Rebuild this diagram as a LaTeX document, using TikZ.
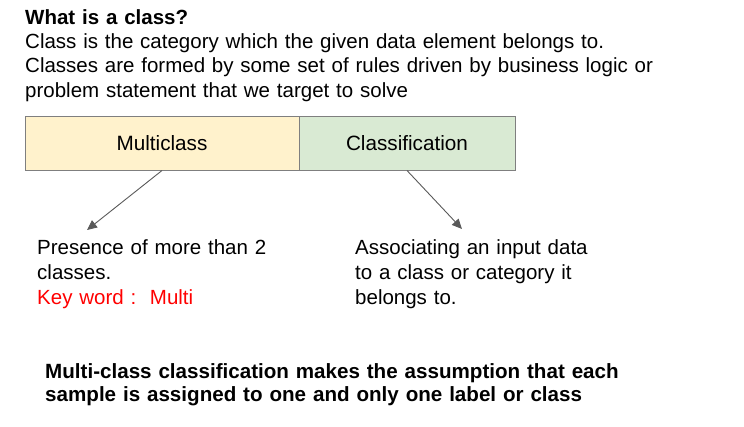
\documentclass[tikz,border=0pt]{standalone}
\usepackage{fontspec}
\setmainfont{Liberation Sans}
\usetikzlibrary{arrows.meta}
\definecolor{boxyellow}{HTML}{FFF2CC}
\definecolor{boxgreen}{HTML}{D9EAD3}
\definecolor{boxline}{HTML}{7F7F7F}
\definecolor{arrowgray}{HTML}{595959}

\begin{document}
\begin{tikzpicture}[x=1pt,y=-1pt,
	class box/.style={rectangle,draw=boxline,line width=1pt,inner sep=0pt,
		minimum height=54pt,font=\fontsize{20.7}{24}\selectfont},
	text block/.style={anchor=base west,inner sep=0pt,align=left,text width=640pt},
	pointer/.style={-{Triangle[length=10pt,width=9pt]},draw=arrowgray,line width=0.9pt}]
	
	\useasboundingbox (0,0) rectangle (744,426);
	
	\node[text block,font=\fontsize{20.5}{24.4}\selectfont] (intro) at (25,24)
		{\textbf{What is a class?}\\
		Class is the category which the given data element belongs to.\\
		Classes are formed by some set of rules driven by business logic or\\
		problem statement that we target to solve};
	
	\node[class box,fill=boxyellow,minimum width=274pt] (multi) at (162,143) {Multiclass};
	\node[class box,fill=boxgreen,minimum width=216pt] (classif) at (407,143) {Classification};
	
	\coordinate (multi end) at (87,230);
	\coordinate (classif end) at (462,229);
	\draw[pointer] (multi.south) -- (multi end);
	\draw[pointer] (classif.south) -- (classif end);
	
	\node[text block,font=\fontsize{20.5}{24.8}\selectfont] (multi note) at (37,254.5)
		{Presence of more than 2\\
		classes.\\
		\textcolor{red}{Key word :\ \ Multi}};
	\node[text block,font=\fontsize{20.5}{24.8}\selectfont] (classif note) at (355,254.5)
		{Associating an input data\\
		to a class or category it\\
		belongs to.};
	
	\node[text block,font=\bfseries\fontsize{20.6}{23.5}\selectfont] (summary) at (45,378)
		{Multi-class classification makes the assumption that each\\
		sample is assigned to one and only one label or class};
\end{tikzpicture}
\end{document}
